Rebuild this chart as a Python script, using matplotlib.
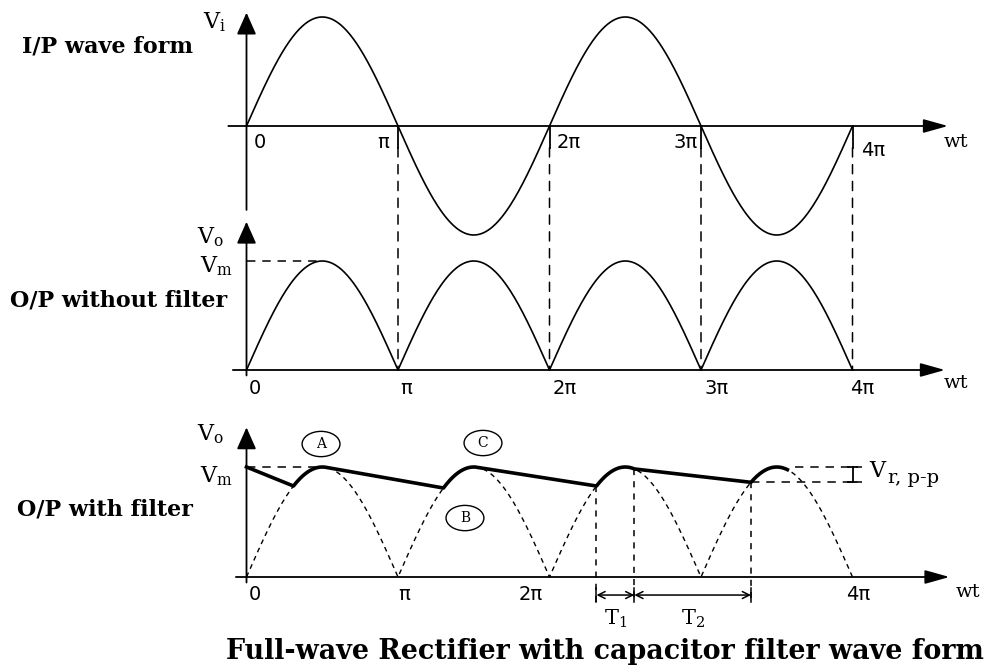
"""
full-wave rectifier waveforms: input sine, rectified output, and output with capacitor filter
"""
import numpy as np
import matplotlib
matplotlib.use("Agg")
import matplotlib.pyplot as plt
from matplotlib.patches import Ellipse, ConnectionPatch

# tick positions (multiples of pi) and their labels
ticks_pi = [0, 1, 2, 3, 4]
tick_labels = ["0", "π", "2π", "3π", "4π"]

# capacitor filter: where the diode starts conducting again (multiples of pi)
recharge_pi = [0.31, 1.30, 2.31, 3.33]
# where the capacitor stops following the input and starts to discharge
discharge_pi = [0.52, 1.51, 2.56]
ripple_start_v = 1.0   # capacitor voltage at wt = 0, in units of Vm
ripple_end_pi = 3.57   # the solid trace stops a bit after the last peak

# offsets (px) of the tick labels from each tick, per panel
top_label_dx = [7, -9, 7, -3, 9]
top_label_ha = ["left", "right", "left", "right", "left"]
top_label_dy = [17, 16, 16, 16, 24]
mid_label_dx = [2, 2, 3, 4, -2]
bot_label_dx = [2, 0, -7, None, -6]
bot_label_ha = ["left", "left", "right", None, "left"]

W, H = 1005, 669
X0, PX_PI = 246.5, 151.5   # pixel position of wt = 0 and pixels per pi
PT = 0.72                  # points per pixel at dpi 100

plt.rcParams["mathtext.fontset"] = "dejavuserif"

fig = plt.figure(figsize=(W / 100, H / 100), dpi=100)


def panel(top, bottom, zero, amp):
    ax = fig.add_axes([0, 1 - bottom / H, 1, (bottom - top) / H])
    ax.set_xlim(-X0 / PX_PI, (W - X0) / PX_PI)
    ax.set_ylim((zero - bottom) / amp, (zero - top) / amp)
    ax.axis("off")
    return ax


def axis_arrow(ax, start, end, hl, hw):
    ax.annotate("", xy=end, xytext=start, annotation_clip=False,
                arrowprops=dict(arrowstyle=f"-|>,head_length={hl},head_width={hw}",
                                lw=1.3, color="black", shrinkA=0, shrinkB=0))


def rectified(x):
    return np.abs(np.sin(np.pi * np.asarray(x)))


ax1 = panel(0, 215, 126, 109)
ax2 = panel(215, 420, 370, 109)
ax3 = panel(420, 669, 577, 110)

serif = "DejaVu Serif"
x = np.linspace(0, 4, 801)

# ---------------- input wave ----------------
axis_arrow(ax1, (-0.12, 0), (4.63, 0), 1.5, 0.42)
axis_arrow(ax1, (0, -0.77), (0, 1.04), 1.35, 0.6)
ax1.plot(x, np.sin(np.pi * x), color="black", lw=1.2, clip_on=False)
for n in ticks_pi[1:]:
    ax1.plot([n, n], [0, -0.2], color="black", lw=1.3)
    con = ConnectionPatch(xyA=(n, -0.2), coordsA=ax1.transData,
                          xyB=(n, 0), coordsB=ax2.transData,
                          color="black", lw=1.1, linestyle=(0, (6, 5)))
    fig.add_artist(con)
for n, lab, dx, ha, dy in zip(ticks_pi, tick_labels, top_label_dx, top_label_ha, top_label_dy):
    ax1.annotate(lab, (n, 0), xytext=(dx * PT, -dy * PT), textcoords="offset points",
                 ha=ha, va="center", fontsize=14, family="DejaVu Sans")
ax1.annotate("wt", (4.6, 0), xytext=(0, -16 * PT), textcoords="offset points",
             ha="left", va="center", fontsize=14, family=serif)
ax1.annotate(r"$\mathrm{V_i}$", (0, 0.95), xytext=(-20 * PT, 0), textcoords="offset points",
             ha="right", va="center", fontsize=16)
ax1.text(-1.48, 0.725, "I/P wave form", fontsize=16, fontweight="bold",
         family=serif, va="center", ha="left")

# ---------------- output without filter ----------------
axis_arrow(ax2, (-0.09, 0), (4.61, 0), 1.5, 0.42)
axis_arrow(ax2, (0, -0.05), (0, 1.36), 1.35, 0.6)
ax2.plot(x, rectified(x), color="black", lw=1.2, clip_on=False)
ax2.plot([0, 0.5], [1, 1], color="black", lw=1.1, linestyle=(0, (5.5, 4.5)))
for n, lab, dx in zip(ticks_pi, tick_labels, mid_label_dx):
    ax2.annotate(lab, (n, 0), xytext=(dx * PT, -18 * PT), textcoords="offset points",
                 ha="left", va="center", fontsize=14, family="DejaVu Sans")
ax2.annotate("wt", (4.6, 0), xytext=(0, -13 * PT), textcoords="offset points",
             ha="left", va="center", fontsize=14, family=serif)
ax2.annotate(r"$\mathrm{V_o}$", (0, 1.22), xytext=(-22 * PT, 0), textcoords="offset points",
             ha="right", va="center", fontsize=16)
ax2.annotate(r"$\mathrm{V_m}$", (0, 0.95), xytext=(-14 * PT, 0), textcoords="offset points",
             ha="right", va="center", fontsize=16)
ax2.text(-1.56, 0.64, "O/P without filter", fontsize=16, fontweight="bold",
         family=serif, va="center", ha="left")

# ---------------- output with capacitor filter ----------------
axis_arrow(ax3, (-0.07, 0), (4.64, 0), 1.5, 0.42)
axis_arrow(ax3, (0, -0.05), (0, 1.36), 1.35, 0.6)
ax3.plot(x, rectified(x), color="black", lw=1.0, linestyle=(0, (3.5, 3)), clip_on=False)
ax3.plot([0, 0.52], [1, 1], color="black", lw=1.1, linestyle=(0, (5.5, 4.5)))

xs, ys = [0.0], [ripple_start_v]
for i, r in enumerate(recharge_pi):
    stop = discharge_pi[i] if i < len(discharge_pi) else ripple_end_pi
    seg = np.linspace(r, stop, 40)
    xs.extend(seg)
    ys.extend(rectified(seg))
ax3.plot(xs, ys, color="black", lw=2.6, solid_joinstyle="round", clip_on=False)

for n, lab, dx, ha in zip(ticks_pi, tick_labels, bot_label_dx, bot_label_ha):
    if dx is None:
        continue
    ax3.annotate(lab, (n, 0), xytext=(dx * PT, -17 * PT), textcoords="offset points",
                 ha=ha, va="center", fontsize=14, family="DejaVu Sans")
ax3.annotate("wt", (4.6, 0), xytext=(12 * PT, -15 * PT), textcoords="offset points",
             ha="left", va="center", fontsize=14, family=serif)
ax3.annotate(r"$\mathrm{V_o}$", (0, 1.30), xytext=(-22 * PT, 0), textcoords="offset points",
             ha="right", va="center", fontsize=16)
ax3.annotate(r"$\mathrm{V_m}$", (0, 0.92), xytext=(-14 * PT, 0), textcoords="offset points",
             ha="right", va="center", fontsize=16)
ax3.text(-1.515, 0.61, "O/P with filter", fontsize=16, fontweight="bold",
         family=serif, va="center", ha="left")

# circled point markers
for (cx, cy), letter in zip([(0.492, 1.209), (1.442, 0.536), (1.561, 1.218)], "ABC"):
    ax3.add_patch(Ellipse((cx, cy), 0.25, 0.23, fill=False, lw=1.0, color="black"))
    ax3.text(cx, cy, letter, ha="center", va="center", fontsize=10, family=serif)

# T1 / T2 intervals
t_y = -0.164
t_marks = [recharge_pi[2], discharge_pi[2], recharge_pi[3]]
for tx in t_marks:
    ax3.plot([tx, tx], [rectified(tx), t_y - 0.06], color="black", lw=1.1,
             linestyle=(0, (4, 4)), clip_on=False)
    ax3.plot([tx, tx], [t_y - 0.06, t_y + 0.06], color="black", lw=1.1, clip_on=False)
for a, b, lab in [(t_marks[0], t_marks[1], r"$\mathrm{T_1}$"), (t_marks[1], t_marks[2], r"$\mathrm{T_2}$")]:
    ax3.annotate("", xy=(b, t_y), xytext=(a, t_y), annotation_clip=False,
                 arrowprops=dict(arrowstyle="<->,head_length=0.5,head_width=0.25",
                                 lw=1.1, color="black", shrinkA=0, shrinkB=0))
    ax3.text((a + b) / 2, -0.38, lab, ha="center", va="center", fontsize=15)

# peak-to-peak ripple marker
v_low = rectified(recharge_pi[-1])
ax3.plot([3.62, 4.06], [1, 1], color="black", lw=1.1, linestyle=(0, (5.5, 4.5)))
ax3.plot([recharge_pi[-1], 4.06], [v_low, v_low], color="black", lw=1.1, linestyle=(0, (5.5, 4.5)))
ax3.plot([4.0, 4.0], [v_low, 1], color="black", lw=1.3)
for yy in (v_low, 1):
    ax3.plot([3.967, 4.033], [yy, yy], color="black", lw=1.3)
ax3.text(4.11, (1 + v_low) / 2 + 0.03, "V", ha="left", va="center", fontsize=16, family=serif)
ax3.text(4.235, (1 + v_low) / 2 - 0.03, "r, p-p", ha="left", va="center", fontsize=14, family=serif)

ax3.text(-0.135, -0.673, "Full-wave Rectifier with capacitor filter wave form",
         fontsize=19.4, fontweight="bold", family=serif, va="center", ha="left")

fig.savefig("out.png", dpi=100)
